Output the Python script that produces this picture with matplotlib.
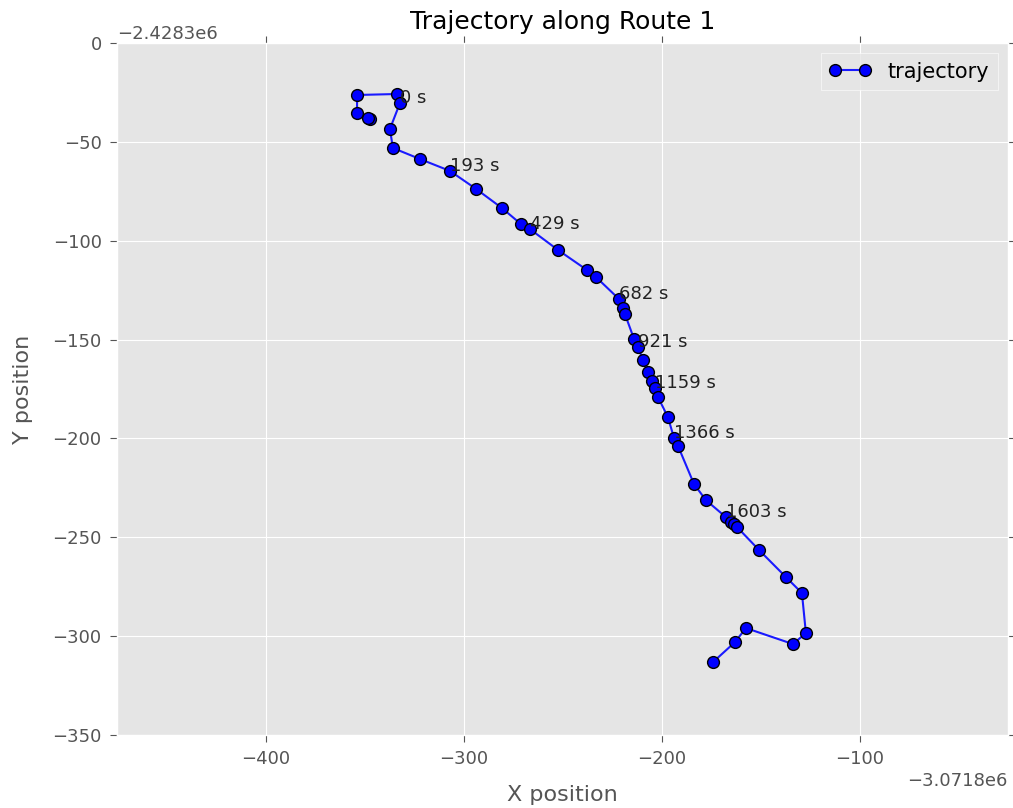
import matplotlib
matplotlib.use('Agg')
import matplotlib.pyplot as plt

plt.style.use('ggplot')

# Offsets shown by the axis formatters
x_offset = -3071800
y_offset = -2428300

# Trajectory positions relative to the offsets (metres)
x_rel = [-347.5, -348.5, -354.0, -354.0, -333.8, -332.3, -337.4, -335.9, -322.2, -307.1,
         -293.9, -280.8, -271.2, -266.7, -252.5, -237.9, -233.3, -221.7, -219.7, -218.7,
         -214.1, -212.1, -209.6, -207.1, -205.1, -203.5, -202.0, -197.0, -193.9, -191.9,
         -183.8, -177.8, -167.7, -165.2, -163.6, -162.1, -151.0, -137.4, -129.3, -127.3,
         -133.8, -157.6, -163.1, -174.2]
y_rel = [-38.4, -37.9, -35.4, -26.3, -25.8, -30.3, -43.5, -53.1, -58.7, -64.7,
         -73.8, -83.5, -91.6, -94.1, -104.7, -114.8, -118.4, -129.5, -134.0, -137.1,
         -149.7, -153.8, -160.3, -166.4, -171.0, -174.5, -179.1, -189.2, -199.8, -203.8,
         -223.1, -231.2, -239.8, -242.3, -243.3, -244.8, -256.4, -270.1, -278.2, -298.4,
         -304.0, -295.9, -303.0, -313.1]

# Time labels and the point index they belong to
label_idx = [5, 9, 13, 17, 21, 25, 28, 32]
label_times = [0, 193, 429, 682, 921, 1159, 1366, 1603]

x = [x_offset + v for v in x_rel]
y = [y_offset + v for v in y_rel]

fig = plt.figure(figsize=(10.13, 8.08), dpi=100)
ax = fig.add_axes([0.1155, 0.0903, 0.8795, 0.8565])

ax.plot(x, y, 'o-', color='#1a1aff', markerfacecolor='blue', markeredgecolor='black',
        markersize=8.5, linewidth=1.5, label='trajectory')

for i, t in zip(label_idx, label_times):
    ax.text(x[i], y[i], '%d s' % t, fontsize=13, color='#222222')

ax.set_xlim(x_offset - 475.25, x_offset - 25.25)
ax.set_ylim(y_offset - 350, y_offset)
ax.set_xticks([x_offset + v for v in [-400, -300, -200, -100]])
ax.set_yticks([y_offset + v for v in [-350, -300, -250, -200, -150, -100, -50, 0]])
ax.xaxis.get_major_formatter().set_useOffset(x_offset)
ax.yaxis.get_major_formatter().set_useOffset(y_offset)
ax.xaxis.get_offset_text().set_fontsize(13)
ax.yaxis.get_offset_text().set_fontsize(13)

ax.tick_params(axis='both', which='major', labelsize=13, direction='out',
               top=True, right=True, length=5, colors='#555555', pad=6)
ax.set_xlabel('X position', fontsize=16, color='#555555', labelpad=12)
ax.set_ylabel('Y position', fontsize=16, color='#555555', labelpad=14)
ax.set_title('Trajectory along Route 1', fontsize=18, color='black', pad=10)

leg = ax.legend(loc='upper right', numpoints=2, fontsize=15, fancybox=False)
leg.get_frame().set_facecolor('#E5E5E5')
leg.get_frame().set_edgecolor('white')

fig.savefig('out.png', dpi=100)
